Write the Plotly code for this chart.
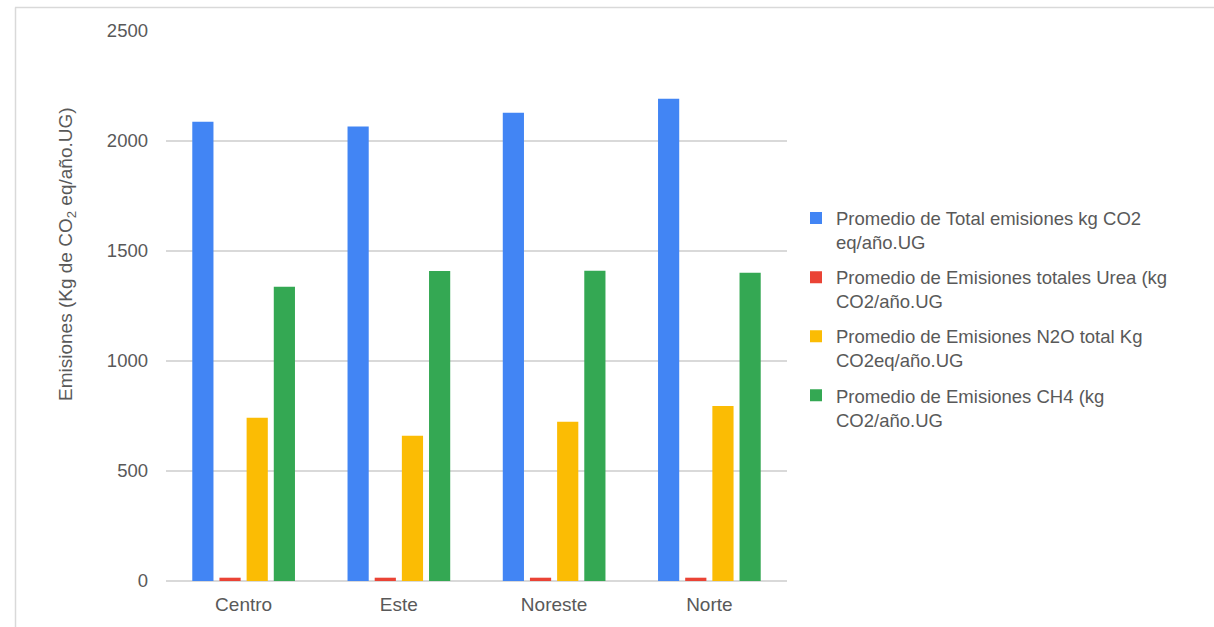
import plotly.graph_objects as go

# Average emissions per region (kg CO2 eq / año.UG)
regiones = ["Centro", "Este", "Noreste", "Norte"]

total_emisiones = [2087, 2066, 2128, 2192]
urea = [15, 15, 15, 15]
n2o = [742, 660, 724, 795]
ch4 = [1337, 1409, 1410, 1401]

series = [
    ("Promedio de Total emisiones kg CO2<br>eq/año.UG", total_emisiones, "#4285F4"),
    ("Promedio de Emisiones totales Urea (kg<br>CO2/año.UG", urea, "#EA4335"),
    ("Promedio de Emisiones N2O total Kg<br>CO2eq/año.UG", n2o, "#FBBC04"),
    ("Promedio de Emisiones CH4 (kg<br>CO2/año.UG", ch4, "#34A853"),
]

W, H = 1214, 627
L, R, T, B = 166, 787, 31, 581
FONT = "Liberation Sans, Arial, sans-serif"
GREY = "#595959"

fig = go.Figure()
for i, (name, vals, color) in enumerate(series):
    fig.add_trace(go.Bar(
        x=regiones, y=vals, name=name, legendgroup=f"g{i}",
        marker=dict(color=color, line=dict(width=0)),
    ))

def px_x(p):
    return (p - L) / (R - L)

def px_y(p):
    return (B - p) / (B - T)

fig.update_layout(
    width=W, height=H,
    margin=dict(l=L, r=W - R, t=T, b=H - B),
    paper_bgcolor="white", plot_bgcolor="white",
    font=dict(family=FONT, size=18.5, color=GREY),
    barmode="group", bargap=0.30, bargroupgap=0.22,
    showlegend=True,
    legend=dict(
        x=px_x(796), xanchor="left", y=px_y(319), yanchor="middle",
        valign="top", tracegroupgap=8,
        font=dict(family=FONT, size=18.5, color=GREY),
        bgcolor="rgba(0,0,0,0)",
    ),
    xaxis=dict(
        showgrid=False, showline=False, ticks="", ticklabelstandoff=10,
        tickfont=dict(family=FONT, size=19, color=GREY),
    ),
    yaxis=dict(
        range=[0, 2500], dtick=500, tick0=0,
        showgrid=True, gridcolor="#D9D9D9", gridwidth=1.5,
        zeroline=True, zerolinecolor="#D9D9D9", zerolinewidth=2,
        showline=False, ticks="", ticklabelstandoff=17,
        tickfont=dict(family=FONT, size=18.5, color=GREY),
    ),
    annotations=[
        dict(text="Emisiones (Kg de CO<sub>2</sub> eq/año.UG)",
             xref="paper", yref="paper", x=px_x(67), y=px_y(254),
             xanchor="center", yanchor="middle", textangle=-90,
             showarrow=False, font=dict(family=FONT, size=19, color=GREY)),
    ],
    shapes=[
        dict(type="line", xref="paper", yref="paper",
             x0=px_x(15), x1=px_x(1214), y0=px_y(7.5), y1=px_y(7.5),
             line=dict(color="#D9D9D9", width=1.5)),
        dict(type="line", xref="paper", yref="paper",
             x0=px_x(15.5), x1=px_x(15.5), y0=px_y(7.5), y1=px_y(627),
             line=dict(color="#D9D9D9", width=1.5)),
    ],
)

fig.write_html("out.html")
